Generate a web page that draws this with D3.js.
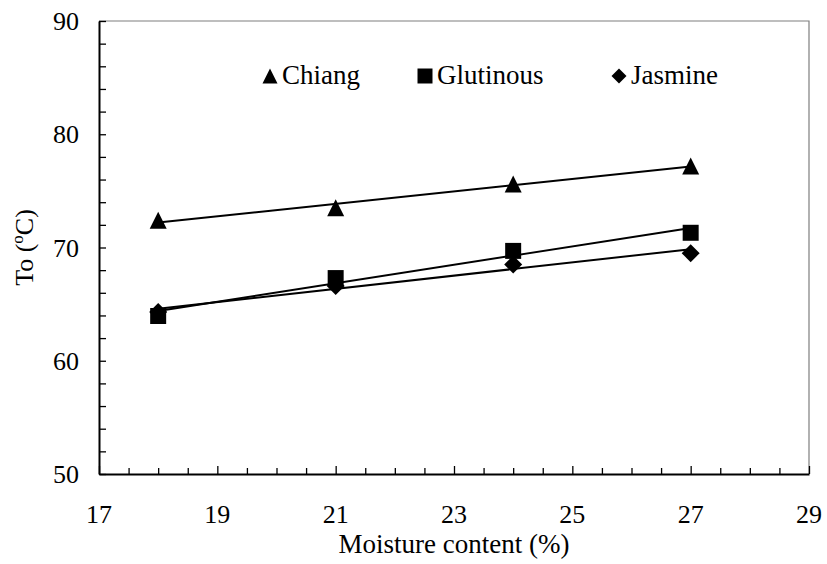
<!DOCTYPE html>
<html>
<head>
<meta charset="utf-8">
<script src="https://cdn.jsdelivr.net/npm/d3@7"></script>
<style>
    body { margin: 0; background: #fff; }
    text { font-family: "Liberation Serif", serif; }
</style>
</head>
<body>
<div id="chart"></div>
<script>
// moisture content (%)
const moisture = [18, 21, 24, 27];

// onset temperature To (°C)
const chiang = [72.4, 73.5, 75.6, 77.2];
const glutinous = [63.95, 67.3, 69.7, 71.3];
const jasmine = [64.3, 66.6, 68.5, 69.5];

const seriesNames = ["Chiang", "Glutinous", "Jasmine"];

const xTicks = [17, 19, 21, 23, 25, 27, 29];
const yTicks = [50, 60, 70, 80, 90];

const width = 827;
const height = 564;
const margin = { top: 21, right: 18, bottom: 90, left: 99 };

const svg = d3.select('#chart').append('svg')
    .attr('width', width)
    .attr('height', height);

const x = d3.scaleLinear().domain([17, 29]).range([margin.left, width - margin.right]);
const y = d3.scaleLinear().domain([50, 90]).range([height - margin.bottom, margin.top]);

// marker shapes, roughly as Excel draws them
const triangle = {
    draw(ctx, size) {
        const h = Math.sqrt(size);
        ctx.moveTo(0, -h / 2);
        ctx.lineTo(h / 2, h / 2);
        ctx.lineTo(-h / 2, h / 2);
        ctx.closePath();
    }
};
const square = {
    draw(ctx, size) {
        const h = Math.sqrt(size) / 2;
        ctx.rect(-h, -h, h * 2, h * 2);
    }
};
const diamond = {
    draw(ctx, size) {
        const h = Math.sqrt(size) / 2;
        ctx.moveTo(0, -h);
        ctx.lineTo(h, 0);
        ctx.lineTo(0, h);
        ctx.lineTo(-h, 0);
        ctx.closePath();
    }
};

const series = [
    { name: seriesNames[0], values: chiang, shape: triangle, size: 17 * 17 },
    { name: seriesNames[1], values: glutinous, shape: square, size: 16 * 16 },
    { name: seriesNames[2], values: jasmine, shape: diamond, size: 18 * 18 }
];

// least squares trend line, as in the figure
function fitLine(xs, ys) {
    const mx = d3.mean(xs), my = d3.mean(ys);
    const slope = d3.sum(xs, (v, i) => (v - mx) * (ys[i] - my)) / d3.sum(xs, v => (v - mx) * (v - mx));
    const x0 = d3.min(xs), x1 = d3.max(xs);
    return [[x0, my + slope * (x0 - mx)], [x1, my + slope * (x1 - mx)]];
}

// plot area frame (top and right in grey)
svg.append('path')
    .attr('d', `M${x(17)},${y(90)}H${x(29)}V${y(50)}`)
    .attr('fill', 'none')
    .attr('stroke', '#7f7f7f')
    .attr('stroke-width', 1.2);

// x axis
const xAxisG = svg.append('g')
    .attr('transform', `translate(0,${y(50)})`);
xAxisG.call(d3.axisBottom(x).tickValues(d3.range(17, 29.01, 0.5)).tickSizeInner(-6).tickSizeOuter(0).tickFormat(''))
xAxisG.selectAll('.tick line').filter(d => xTicks.includes(d)).attr('y2', -8);
xAxisG.select('.domain').attr('stroke-width', 2);
xAxisG.selectAll('.tick line').attr('stroke-width', 1.3);

svg.selectAll('.x-label')
    .data(xTicks)
    .enter().append('text')
    .attr('class', 'x-label')
    .attr('x', d => x(d))
    .attr('y', y(50) + 49)
    .attr('text-anchor', 'middle')
    .style('font-size', '26px')
    .text(d => d);

// y axis
const yAxisG = svg.append('g')
    .attr('transform', `translate(${x(17)},0)`);
yAxisG.call(d3.axisLeft(y).tickValues(d3.range(50, 90.01, 2)).tickSizeInner(-7).tickSizeOuter(0).tickFormat(''));
yAxisG.select('.domain').attr('stroke-width', 2);
yAxisG.selectAll('.tick line').attr('stroke-width', 1.3);

svg.selectAll('.y-label')
    .data(yTicks)
    .enter().append('text')
    .attr('class', 'y-label')
    .attr('x', x(17) - 20)
    .attr('y', d => y(d) + 9)
    .attr('text-anchor', 'end')
    .style('font-size', '26px')
    .text(d => d);

// axis titles
svg.append('text')
    .attr('x', (x(17) + x(29)) / 2)
    .attr('y', 553)
    .attr('text-anchor', 'middle')
    .style('font-size', '27px')
    .text('Moisture content (%)');

const yTitle = svg.append('text')
    .attr('transform', `translate(33,${(y(50) + y(90)) / 2}) rotate(-90)`)
    .attr('text-anchor', 'middle')
    .style('font-size', '26px');
yTitle.append('tspan').text('To (');
yTitle.append('tspan').attr('dy', -10).style('font-size', '17px').text('o');
yTitle.append('tspan').attr('dy', 10).text('C)');

// trend lines
const line = d3.line().x(d => x(d[0])).y(d => y(d[1]));
svg.selectAll('.trend')
    .data(series)
    .enter().append('path')
    .attr('class', 'trend')
    .attr('d', d => line(fitLine(moisture, d.values)))
    .attr('fill', 'none')
    .attr('stroke', '#000')
    .attr('stroke-width', 2);

// markers
series.forEach(s => {
    const sym = d3.symbol().type(s.shape).size(s.size);
    svg.selectAll(null)
        .data(s.values.map((v, i) => [moisture[i], v]))
        .enter().append('path')
        .attr('transform', d => `translate(${x(d[0])},${y(d[1])})`)
        .attr('d', sym)
        .attr('fill', '#000');
});

// legend
const legendX = [270, 425, 619];
series.forEach((s, i) => {
    svg.append('path')
        .attr('transform', `translate(${legendX[i]},76)`)
        .attr('d', d3.symbol().type(s.shape).size(15 * 15)())
        .attr('fill', '#000');
    svg.append('text')
        .attr('x', legendX[i] + 12)
        .attr('y', 84)
        .style('font-size', '27px')
        .text(s.name);
});
</script>
</body>
</html>
